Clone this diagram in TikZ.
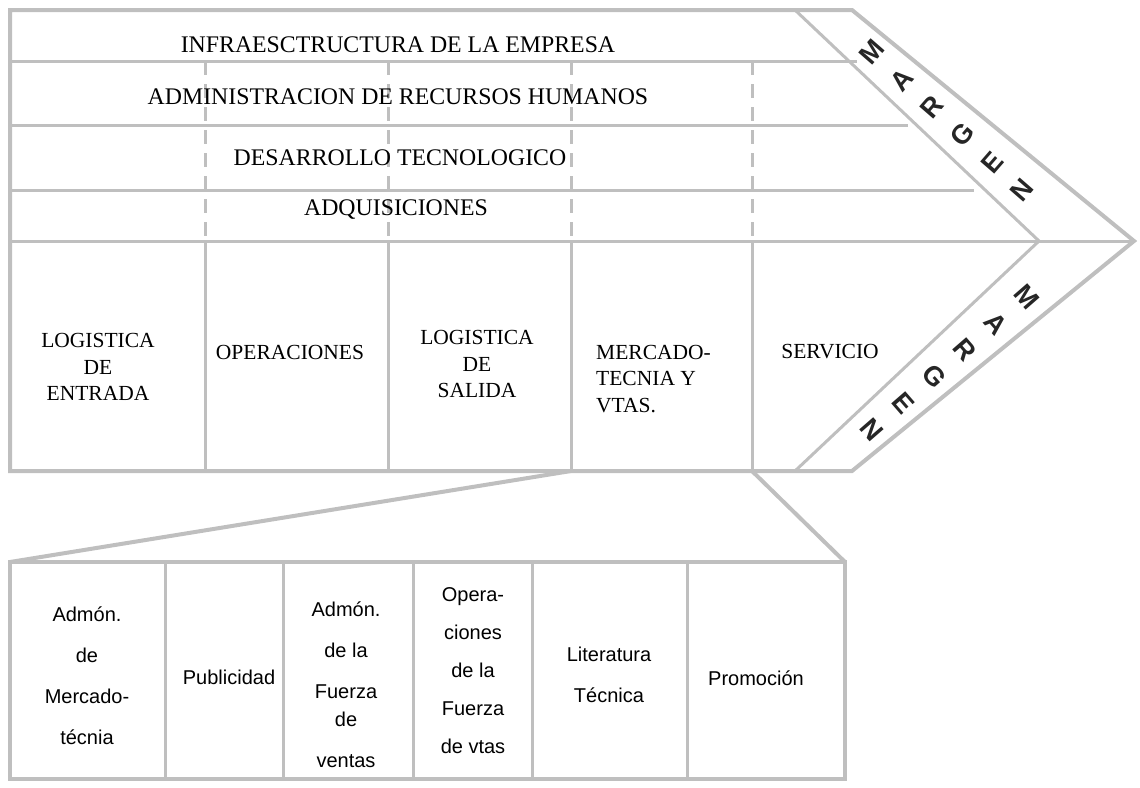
\documentclass[tikz,border=0pt]{standalone}
\usepackage{fontspec}
\setmainfont{Liberation Serif}
\setsansfont{Liberation Sans}
\tikzset{
	frame/.style={draw=black!25, line width=4pt, line join=miter},
	rule/.style={draw=black!25, line width=3pt},
	cut/.style={draw=black!25, line width=3pt, dash pattern=on 14pt off 9pt},
	row/.style={font=\fontsize{23.8}{26}\selectfont, inner sep=0pt},
	cell/.style={font=\fontsize{21.5}{26.5}\selectfont, align=center, inner sep=0pt},
	sub/.style={font=\sffamily\fontsize{20}{41}\selectfont, align=center, inner sep=0pt},
	marg/.style={font=\sffamily\bfseries\fontsize{27}{27}\selectfont, text=black!85, inner sep=0pt}
}

\begin{document}
\begin{tikzpicture}[x=1pt, y=-1pt]
		%%%%% START %%%%%
		\useasboundingbox (0,0) rectangle (1140,787);
		
		% chain
		\draw[rule] (10,61) -- (857,61);
		\draw[rule] (10,125) -- (908,125);
		\draw[rule] (10,190) -- (974,190);
		\draw[rule] (10,241) -- (1134,241);
		\foreach \x in {205,388,571,752} \draw[cut] (\x,61) -- (\x,241);
		\foreach \x in {205,388,571,752} \draw[rule] (\x,241) -- (\x,471);
		\draw[rule] (795,10) -- (1039,241) -- (795,471);
		\draw[frame] (10,10) -- (852,10) -- (1134,241) -- (852,471) -- (10,471) -- cycle;
		
		\node[row] (infra) at (398,45) {INFRAESCTRUCTURA DE LA EMPRESA};
		\node[row] (rrhh) at (398,97) {ADMINISTRACION DE RECURSOS HUMANOS};
		\node[row] (tecno) at (400,158) {DESARROLLO TECNOLOGICO};
		\node[row] (adqui) at (396,210) {ADQUISICIONES};
		
		\node[cell] (logent) at (98,367) {LOGISTICA\\DE\\ENTRADA};
		\node[cell] (oper) at (290,352) {OPERACIONES};
		\node[cell] (logsal) at (477,364) {LOGISTICA\\DE\\SALIDA};
		\node[cell, align=left, anchor=west] (merc) at (596,379) {MERCADO-\\TECNIA Y\\VTAS.};
		\node[cell] (serv) at (830,352) {SERVICIO};
		
		\foreach \l [count=\i from 0] in {M,A,R,G,E,N}
			\node[marg, rotate=49] (mu\i) at ({872+30*\i},{52+27.6*\i}) {\l};
		\foreach \l [count=\i from 0] in {M,A,R,G,E,N}
			\node[marg, rotate=-49] (md\i) at ({1027-31*\i},{297+26.6*\i}) {\l};
		
		% zoom on marketing
		\draw[frame] (571,471) -- (10,562);
		\draw[frame] (752,471) -- (845,562);
		\draw[frame] (10,562) rectangle (845,779);
		\foreach \x in {165,283,413,532,687} \draw[rule] (\x,562) -- (\x,779);
		
		\node[sub] (admmerc) at (87,676) {Admón.\\de\\Mercado-\\técnia};
		\node[sub] (publ) at (229,677) {Publicidad};
		\node[sub] (fzvent) at (346,685) {Admón.\\de la\\Fuerza\\[-13pt]de\\ventas};
		\node[sub] (fzvtas) at (473,671) {Opera-\\[-3pt]ciones\\[-3pt]de la\\[-3pt]Fuerza\\[-3pt]de vtas};
		\node[sub] (lit) at (609,675) {Literatura\\Técnica};
		\node[sub] (prom) at (756,678) {Promoción};
		%%%%% END %%%%%
	\end{tikzpicture}
\end{document}
